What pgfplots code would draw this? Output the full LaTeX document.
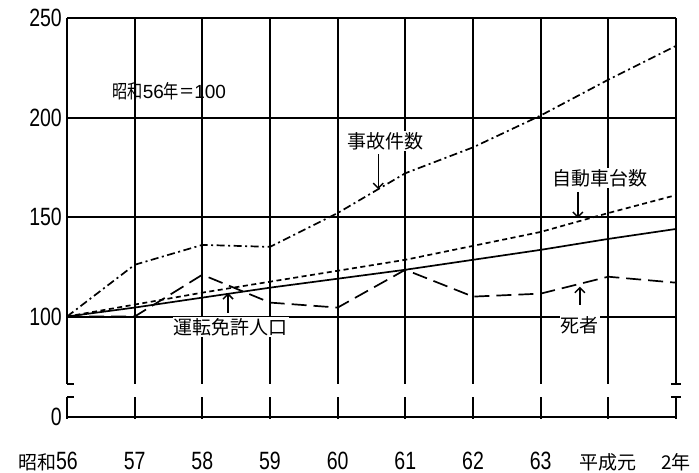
\documentclass[border=0pt]{standalone}
\usepackage{fontspec}
\setmainfont[FakeStretch=0.78]{Liberation Sans}
\newfontfamily\cjk{Noto Sans CJK JP}
\newfontfamily\plainsans{Liberation Sans}
\usepackage{pgfplots}
\usepackage{pgfplotstable}
\pgfplotsset{compat=1.18}
\usetikzlibrary{arrows.meta}

% index, 昭和56年=100
\pgfplotstableread{
x  acc  car   lic    dead
0  100  100   100    100
1  126  106   104.5  100
2  136  112   109.5  121
3  135  117.5 114.5  107
4  152  123   119    104.5
5  172  128.5 123.5  123.5
6  185  135.5 128.5  110
7  201  142.5 133.5  111.5
8  219  152   139    120
9  236  161   144    117
}\idx

\newcommand\jx[1]{{\cjk\fontsize{19}{19}\selectfont #1}}

\tikzset{
  ser/.style={black, line width=1.7pt, mark=none},
  frm/.style={black, line width=2pt},
  arr/.style={black, line width=1.5pt, -{Straight Barb[length=5pt,width=10pt]}},
  lab/.style={fill=white, inner sep=1pt, font=\cjk\fontsize{19}{19}\selectfont},
}

\begin{document}
\begin{tikzpicture}
\useasboundingbox (0,0) rectangle (699pt,473pt);
\pgfplotsset{
  brk/.style={
    scale only axis, width=609pt, anchor=south west,
    xmin=0, xmax=9, xtick={0,...,9},
    axis line style={draw=none},
    major tick length=0pt,
    xmajorgrids,
    major grid style={black, line width=2pt},
    clip=false,
    /pgf/number format/assume math mode=true,
    yticklabel style={anchor=east, inner sep=0pt, xshift=-5pt,
      font=\fontsize{25}{25}\selectfont},
  },
}
% lower part, around 0
\begin{axis}[brk, at={(67pt,54pt)}, height=22pt,
  ymin=-1, ymax=10.05, ytick={0},
  xticklabels={{\llap{\jx{昭和}}56},57,58,59,60,61,62,63,\jx{平成元},\jx{2年}},
  xticklabel style={anchor=north, inner sep=0pt, yshift=-32pt,
    text height=18pt, text depth=0pt, font=\fontsize{25}{25}\selectfont}]
  \addplot[black, line width=2pt, mark=none] coordinates {(0,0) (9,0)};
  \addplot[black, line width=2pt, mark=none] coordinates {(0,0) (0,10.05)};
  \addplot[black, line width=2pt, mark=none] coordinates {(9,0) (9,10.05)};
  \draw[frm] (axis cs:0,10.05) -- (axis cs:0.1,10.05);
  \draw[frm] (axis cs:8.925,10.05) -- (axis cs:9.075,10.05);
\end{axis}
% upper part, 66 to 250
\begin{axis}[brk, at={(67pt,89pt)}, height=366pt,
  ymin=66.1, ymax=250, ytick={100,150,200,250}, ymajorgrids,
  xticklabels={}]
  \addplot[ser, dash pattern=on 8pt off 3.5pt on 2pt off 3.5pt] table[x=x,y=acc] {\idx};
  \addplot[ser, dash pattern=on 5pt off 3.5pt] table[x=x,y=car] {\idx};
  \addplot[ser] table[x=x,y=lic] {\idx};
  \addplot[ser, dash pattern=on 15pt off 7pt] table[x=x,y=dead] {\idx};

  \draw[frm] (axis cs:0,66.1) -- (axis cs:0.1,66.1);
  \draw[frm] (axis cs:8.925,66.1) -- (axis cs:9.075,66.1);

  \node[font=\fontsize{19}{19}\selectfont] at (axis cs:1.51,213.3)
    {\scalebox{0.8}[1]{\cjk 昭和}{\plainsans 56}\scalebox{0.8}[1]{\cjk 年＝}{\plainsans 100}};

  \node[lab] at (axis cs:4.70,188.2) {事故件数};
  \draw[arr] (axis cs:4.6,181.5) -- (axis cs:4.6,164);
  \node[lab] at (axis cs:7.88,169.6) {自動車台数};
  \draw[arr] (axis cs:7.55,162.6) -- (axis cs:7.55,149.5);
  \node[lab] at (axis cs:2.42,94.7) {運転免許人口};
  \draw[arr] (axis cs:2.38,101.8) -- (axis cs:2.38,111.8);
  \node[lab] at (axis cs:7.58,95.7) {死者};
  \draw[arr] (axis cs:7.58,105.8) -- (axis cs:7.58,115);
\end{axis}
\end{tikzpicture}
\end{document}
